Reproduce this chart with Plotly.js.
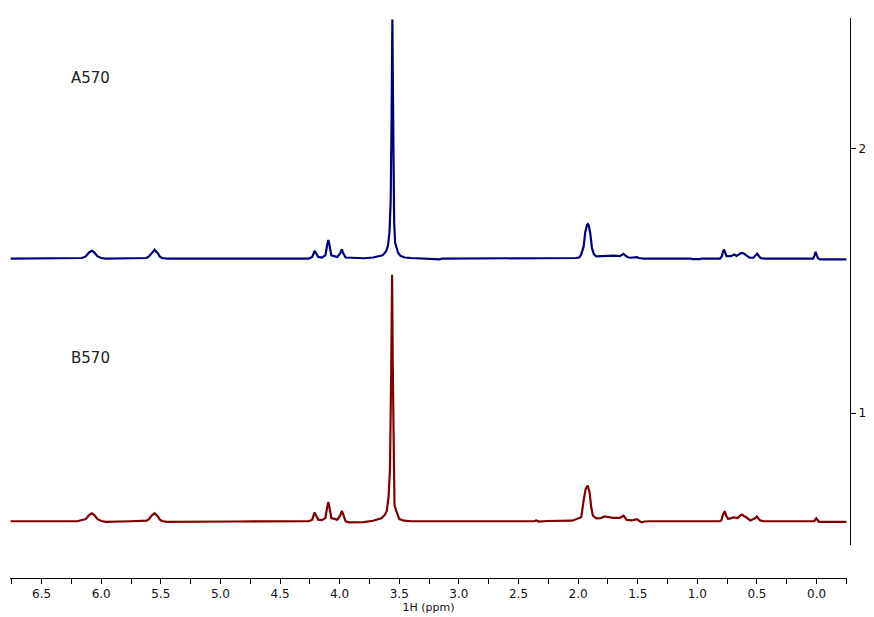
<!DOCTYPE html>
<html>
<head>
<meta charset="utf-8">
<script src="https://cdn.plot.ly/plotly-3.0.1.min.js"></script>
<style>
html,body{margin:0;padding:0;background:#fff;}
#chart{width:874px;height:617px;}
</style>
</head>
<body>
<div id="chart"></div>
<script>
// Spectrum A570 (intensity above its own baseline), ppm descending
var ppmA = [6.76,6.20,6.16,6.13,6.10,6.078,6.06,6.03,6.00,5.96,5.75,5.62,5.60,5.58,5.565,5.552,5.538,5.524,5.51,5.49,5.45,
  4.26,4.23,4.215,4.21,4.20,4.18,4.15,4.12,4.105,4.095,4.085,4.07,4.02,3.995,3.981,3.97,3.95,3.80,3.72,3.68,3.64,3.61,3.595,3.582,3.572,3.564,3.558,3.553,3.548,3.543,3.535,3.525,3.51,3.49,3.455,3.40,3.30,3.28,3.16,3.14,
  2.10,2.02,1.99,1.974,1.954,1.94,1.925,1.918,1.91,1.898,1.884,1.867,1.848,1.82,1.78,1.70,1.65,1.63,1.619,1.605,1.583,1.56,1.53,1.507,1.49,1.45,
  1.06,1.04,0.98,0.96,0.81,0.795,0.785,0.777,0.768,0.755,0.72,0.70,0.688,0.672,0.655,0.632,0.61,0.585,0.562,0.53,0.515,0.498,0.485,0.47,0.44,
  0.03,0.018,0.008,-0.002,-0.012,-0.03,-0.25];
var intA = [0,0,0.002,0.008,0.024,0.029,0.024,0.008,0.002,0,0.001,0.002,0.008,0.020,0.026,0.033,0.025,0.020,0.008,0.002,0,
  0,0.006,0.025,0.029,0.022,0.006,0.004,0.012,0.050,0.070,0.050,0.012,0.006,0.020,0.035,0.020,0.004,0.001,0.004,0.007,0.012,0.028,0.048,0.10,0.22,0.55,0.905,0.62,0.37,0.14,0.06,0.045,0.022,0.010,0.004,0.002,0,-0.003,-0.003,0,
  0,0.002,0.004,0.015,0.045,0.10,0.128,0.131,0.125,0.095,0.04,0.016,0.008,0.009,0.011,0.011,0.009,0.014,0.018,0.012,0.005,0.003,0.003,0.005,0.002,0,
  0,-0.002,-0.002,0,0,0.008,0.025,0.034,0.025,0.009,0.009,0.012,0.015,0.010,0.014,0.021,0.019,0.010,0.003,0.003,0.010,0.018,0.010,0.002,0,
  0,0.010,0.025,0.012,0.001,-0.003,-0.003];

// Spectrum B570
var ppmB = [6.76,6.20,6.13,6.10,6.078,6.06,6.03,6.00,5.96,5.80,5.75,5.62,5.60,5.58,5.565,5.552,5.538,5.524,5.51,5.49,5.45,5.20,5.19,4.90,4.88,
  4.26,4.23,4.215,4.21,4.20,4.18,4.15,4.12,4.105,4.095,4.085,4.07,4.02,3.995,3.981,3.97,3.95,3.92,3.80,3.72,3.68,3.65,3.62,3.605,3.59,3.578,3.568,3.560,3.555,3.550,3.545,3.540,3.525,3.51,3.50,3.46,3.40,
  2.37,2.351,2.33,2.28,2.26,2.05,2.016,1.974,1.954,1.937,1.92,1.904,1.890,1.876,1.848,1.81,1.778,1.74,1.708,1.65,1.619,1.591,1.55,1.507,1.49,1.470,1.44,1.40,
  0.81,0.799,0.785,0.771,0.757,0.743,0.72,0.701,0.68,0.66,0.645,0.626,0.610,0.590,0.556,0.52,0.501,0.485,0.473,0.44,
  0.02,0.003,-0.01,-0.02,-0.25];
var intB = [0,0,0.008,0.024,0.030,0.024,0.008,0.001,-0.002,-0.002,0,0.002,0.008,0.020,0.025,0.030,0.024,0.018,0.007,0.001,-0.002,-0.002,-0.003,-0.003,-0.001,
  0,0.006,0.028,0.033,0.024,0.006,0.004,0.012,0.052,0.073,0.052,0.012,0.006,0.022,0.039,0.022,0.000,-0.004,-0.003,0.002,0.008,0.011,0.025,0.039,0.091,0.20,0.56,0.934,0.60,0.418,0.15,0.06,0.039,0.015,0.008,0.002,0,
  0,0.003,-0.001,-0.001,0.001,0.002,0.009,0.015,0.078,0.122,0.135,0.110,0.053,0.021,0.011,0.012,0.018,0.014,0.013,0.013,0.021,0.005,0.003,0.008,0.002,-0.004,-0.001,0,
  0,0.003,0.025,0.038,0.020,0.009,0.011,0.015,0.014,0.012,0.020,0.025,0.020,0.015,0.003,0.010,0.018,0.010,0.003,0,
  0,0.011,0.001,-0.002,-0.002];

// Stack offsets of each spectrum on the shared intensity axis
var offsetA = 1.585;
var offsetB = 0.590;

var labels = ["A570", "B570"];
var xTitle = "1H (ppm)";

var yA = intA.map(function(v){ return v + offsetA; });
var yB = intB.map(function(v){ return v + offsetB; });

var font = "DejaVu Sans, sans-serif";

var traces = [
  {x: ppmA, y: yA, type: "scatter", mode: "lines", line: {color: "#00007f", width: 2.2}, hoverinfo: "none"},
  {x: ppmB, y: yB, type: "scatter", mode: "lines", line: {color: "#7f0000", width: 2.2}, hoverinfo: "none"}
];

var layout = {
  width: 874, height: 617,
  margin: {l: 10, r: 24, t: 18, b: 39, pad: 0},
  paper_bgcolor: "#ffffff", plot_bgcolor: "#ffffff",
  showlegend: false,
  font: {family: font, color: "#000000", size: 12},
  xaxis: {
    range: [6.765, -0.255], domain: [0, 0.9964],
    anchor: "free", position: 0,
    showgrid: false, zeroline: false, showline: true, linecolor: "#000", linewidth: 1,
    ticks: "outside", ticklen: 5, tickcolor: "#000", dtick: 0.5, tick0: 0,
    tickformat: ".1f",
    minor: {dtick: 0.25, tick0: 0, ticks: "outside", ticklen: 5, tickcolor: "#000", showgrid: false},
    tickfont: {family: font, size: 12, color: "#111"},
    title: {text: xTitle, font: {family: font, size: 11, color: "#111"}, standoff: 2}
  },
  yaxis: {
    range: [0.5, 2.496], domain: [0.0589, 1],
    side: "right", anchor: "free", position: 1,
    showgrid: false, zeroline: false, showline: true, linecolor: "#000", linewidth: 1,
    ticks: "outside", ticklen: 5, tickcolor: "#000", dtick: 1, tick0: 0,
    tickfont: {family: font, size: 12, color: "#111"}
  },
  annotations: [
    {x: 6.089, y: 2.269, xref: "x", yref: "y", text: labels[0], showarrow: false, font: {family: font, size: 15, color: "#222"}},
    {x: 6.089, y: 1.208, xref: "x", yref: "y", text: labels[1], showarrow: false, font: {family: font, size: 15, color: "#222"}}
  ]
};

Plotly.newPlot("chart", traces, layout, {displayModeBar: false, staticPlot: true});
</script>
</body>
</html>
